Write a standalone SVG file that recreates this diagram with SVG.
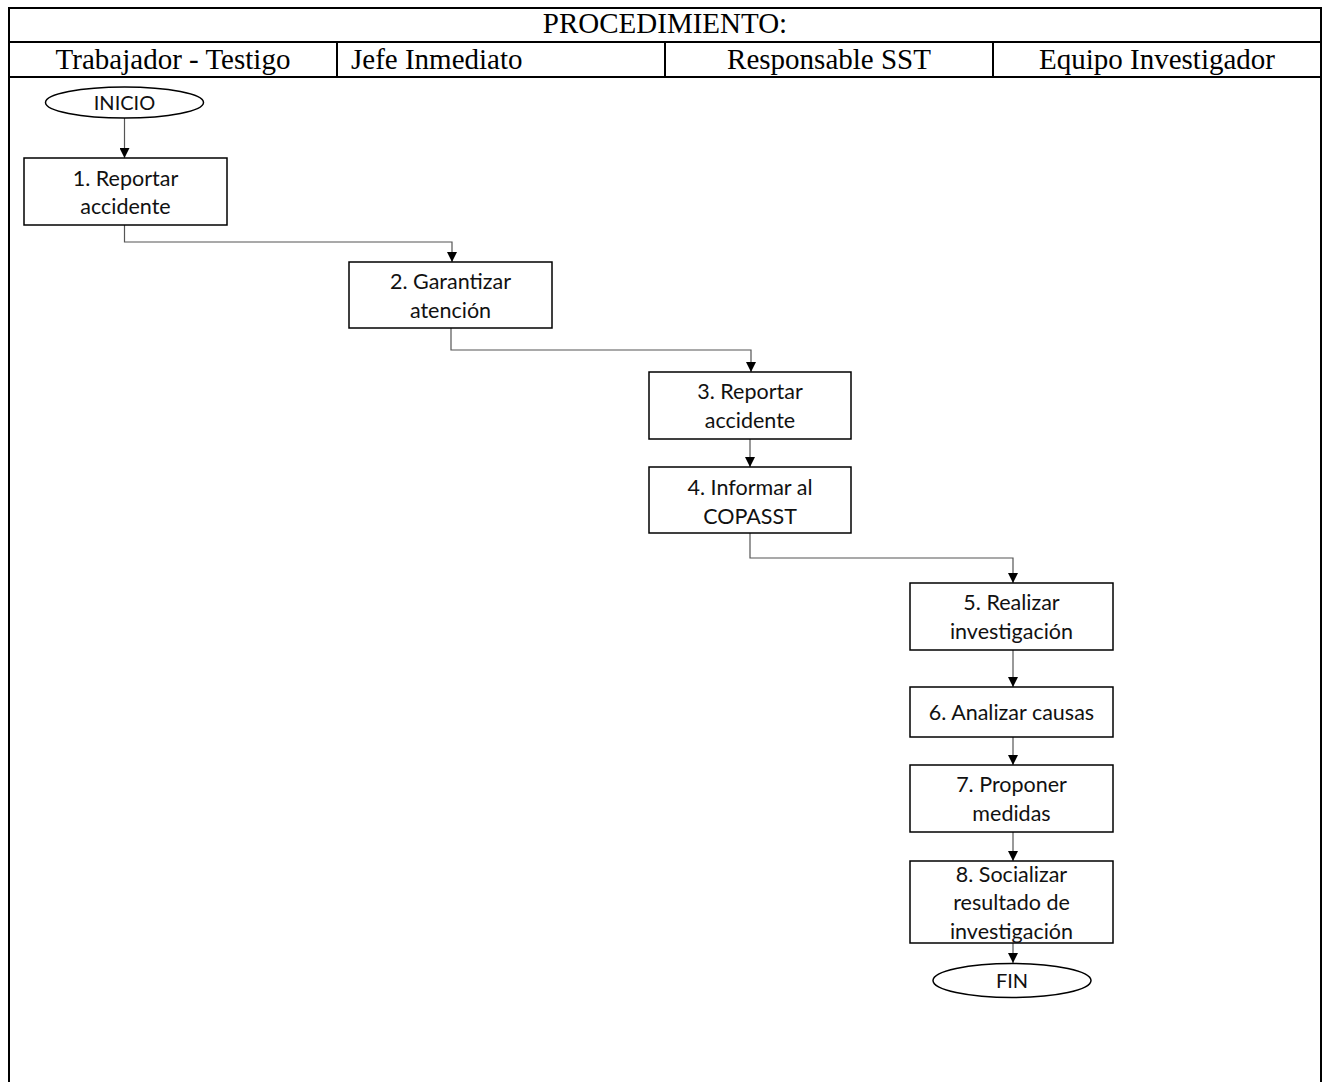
<svg xmlns="http://www.w3.org/2000/svg" width="1324" height="1082" viewBox="0 0 1324 1082">
<defs>
<marker id="ah" viewBox="0 0 10 10" refX="10" refY="5" markerWidth="10" markerHeight="10" markerUnits="userSpaceOnUse" orient="auto">
<path d="M0,0 L10,5 L0,10 z" fill="#000"/>
</marker>
<style>
.frame{stroke:#000;stroke-width:2;fill:none}
.hd{font-family:"Liberation Serif","Times New Roman",serif;font-size:29px;fill:#000}
.box{fill:#fff;stroke:#000;stroke-width:1.5}
.t{font-family:Lato,"Liberation Sans",sans-serif;font-size:21.5px;fill:#111;text-anchor:middle}
.c{fill:none;stroke:#555;stroke-width:1.2;marker-end:url(#ah)}
</style>
</defs>
<rect width="1324" height="1082" fill="#fff"/>
<g id="table">
<path class="frame" d="M9,1082 V8 H1321 V1082 M9,42 H1321 M9,77 H1321 M337,42 V77 M665,42 V77 M993,42 V77"/>
<text class="hd" x="665" y="33" text-anchor="middle">PROCEDIMIENTO:</text>
<text class="hd" x="173" y="69" text-anchor="middle">Trabajador - Testigo</text>
<text class="hd" x="351" y="69">Jefe Inmediato</text>
<text class="hd" x="829" y="69" text-anchor="middle">Responsable SST</text>
<text class="hd" x="1157" y="69" text-anchor="middle">Equipo Investigador</text>
</g>
<g id="connectors">
<path class="c" d="M124.5,118 V158"/>
<path class="c" d="M124.5,225 V242 H452 V262"/>
<path class="c" d="M451,328 V350 H751 V372"/>
<path class="c" d="M750,439 V467"/>
<path class="c" d="M750,533 V558 H1013 V583"/>
<path class="c" d="M1013,650 V687"/>
<path class="c" d="M1013,737 V765"/>
<path class="c" d="M1013,832 V861"/>
<path class="c" d="M1013,943 V963"/>
</g>
<g id="inicio">
<ellipse class="box" cx="124.5" cy="102.5" rx="79" ry="15.5"/>
<text class="t" x="124.5" y="110" style="font-size:20px">INICIO</text>
</g>
<g id="n1">
<rect class="box" x="24" y="158" width="203" height="67"/>
<text class="t" x="125.5" y="186">1. Reportar</text>
<text class="t" x="125.5" y="214">accidente</text>
</g>
<g id="n2">
<rect class="box" x="349" y="262" width="203" height="66"/>
<text class="t" x="450.5" y="289">2. Garantizar</text>
<text class="t" x="450.5" y="318">atención</text>
</g>
<g id="n3">
<rect class="box" x="649" y="372" width="202" height="67"/>
<text class="t" x="750" y="399">3. Reportar</text>
<text class="t" x="750" y="428">accidente</text>
</g>
<g id="n4">
<rect class="box" x="649" y="467" width="202" height="66"/>
<text class="t" x="750" y="495">4. Informar al</text>
<text class="t" x="750" y="524">COPASST</text>
</g>
<g id="n5">
<rect class="box" x="910" y="583" width="203" height="67"/>
<text class="t" x="1011.5" y="610">5. Realizar</text>
<text class="t" x="1011.5" y="639">investigación</text>
</g>
<g id="n6">
<rect class="box" x="910" y="687" width="203" height="50"/>
<text class="t" x="1011.5" y="720">6. Analizar causas</text>
</g>
<g id="n7">
<rect class="box" x="910" y="765" width="203" height="67"/>
<text class="t" x="1011.5" y="792">7. Proponer</text>
<text class="t" x="1011.5" y="821">medidas</text>
</g>
<g id="n8">
<rect class="box" x="910" y="861" width="203" height="82"/>
<text class="t" x="1011.5" y="882">8. Socializar</text>
<text class="t" x="1011.5" y="910">resultado de</text>
<text class="t" x="1011.5" y="939">investigación</text>
</g>
<g id="fin">
<ellipse class="box" cx="1012" cy="980.5" rx="79" ry="17"/>
<text class="t" x="1012" y="988" style="font-size:20px">FIN</text>
</g>
</svg>
